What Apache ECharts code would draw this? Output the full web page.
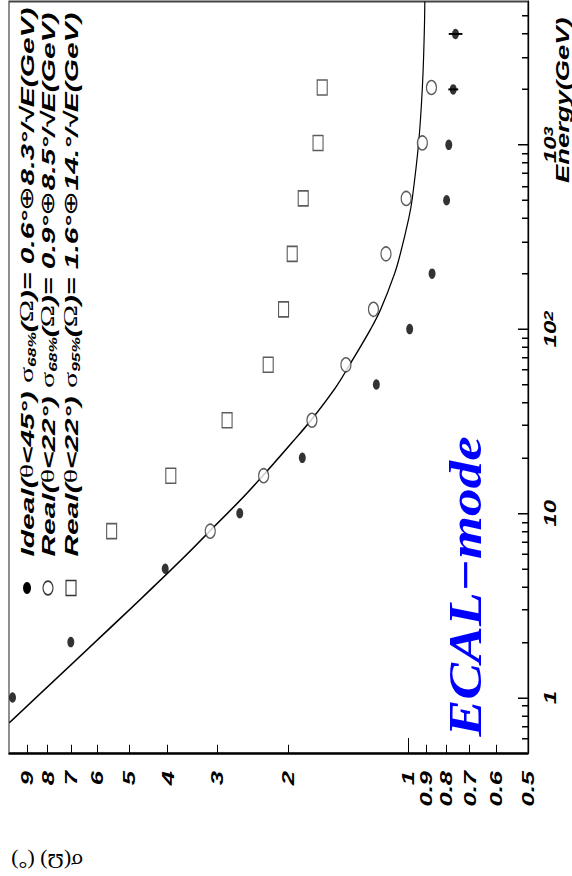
<!DOCTYPE html>
<html>
<head>
<meta charset="utf-8">
<script src="https://cdn.jsdelivr.net/npm/echarts@6/dist/echarts.min.js"></script>
<style>
  html, body { margin: 0; padding: 0; background: #fff; width: 572px; height: 876px; }
  #frame { position: relative; width: 572px; height: 876px; overflow: hidden; }
  /* the plot is laid out on a 572x584 stage and stretched vertically */
  #stage { position: absolute; left: 0; top: 0; width: 572px; height: 584px;
           transform: scaleY(1.5); transform-origin: 0 0; }
</style>
</head>
<body>
<div id="frame"><div id="stage"></div></div>
<script>
// Angular resolution sigma(Omega) versus photon energy, ECAL mode.
// Energy runs up the right-hand axis, sigma along the bottom (decreasing to the right).

const energyIdeal = [1, 2, 5, 10, 20, 50, 100, 200, 500, 1000, 2000, 4000];
const sigmaIdeal  = [9.8, 7.0, 4.06, 2.64, 1.84, 1.2, 0.99, 0.87, 0.80, 0.79, 0.77, 0.76];
const errIdeal    = [0, 0, 0, 0, 0, 0, 0, 0, 0, 0, 0.022, 0.03];

const energyReal  = [8, 16, 32, 64, 128, 256, 512, 1024, 2048];
const sigmaReal68 = [3.13, 2.30, 1.74, 1.43, 1.22, 1.135, 1.01, 0.92, 0.873];
const sigmaReal95 = [5.53, 3.93, 2.84, 2.24, 2.05, 1.95, 1.83, 1.68, 1.64];

// fitted resolution curve, sampled along its length
const fitEnergy = [0.73, 1, 1.5, 2, 3, 4, 6, 8, 12, 16, 24, 32, 48, 64, 100, 128, 200, 256, 400, 512, 1024, 2048, 4000, 6000];
const fitSigma  = [9.98, 8.55, 7.0, 6.08, 4.99, 4.34, 3.58, 3.14, 2.61, 2.31, 1.96, 1.75, 1.52, 1.40, 1.24, 1.17, 1.08, 1.045, 0.995, 0.975, 0.94, 0.92, 0.91, 0.907];

const energyTicks = [1, 10, 100, 1000];
const energyTickLabels = ['1', '10', '10{sup|2}', '10{sup|3}'];
const energyMinorTicks = [0.6, 0.7, 0.8, 0.9, 2, 3, 4, 5, 6, 7, 8, 9, 20, 30, 40, 50, 60, 70, 80, 90,
                          200, 300, 400, 500, 600, 700, 800, 900, 2000, 3000, 4000, 5000];
const sigmaTicks = [0.5, 0.6, 0.7, 0.8, 0.9, 1, 2, 3, 4, 5, 6, 7, 8, 9];
const sigmaTickLabels = ['0.5', '0.6', '0.7', '0.8', '0.9', '1', '2', '3', '4', '5', '6', '7', '8', '9'];
const sigmaMajorTicks = [1];
const sigmaMinorTicks = [0.6, 0.7, 0.8, 0.9, 2, 3, 4, 5, 6, 7, 8, 9];

const legendLabels = [
  'Ideal({s|θ}<45°) {s|σ}{sub|68%}({s|Ω})= 0.6°{s|⊕}8.3°/√E(GeV)',
  'Real({s|θ}<22°) {s|σ}{sub|68%}({s|Ω})= 0.9°{s|⊕}8.5°/√E(GeV)',
  'Real({s|θ}<22°) {s|σ}{sub|95%}({s|Ω})= 1.6°{s|⊕}14.°/√E(GeV)'
];
const energyTitle = 'Energy(GeV)';
const sigmaTitle = 'σ(Ω) (°)';
const modeTitle = 'ECAL−mode';

const SANS = '"Liberation Sans", Arial, Helvetica, sans-serif';
const SERIF = '"Liberation Serif", "Times New Roman", serif';

const pairs = (xs, ys) => xs.map((x, i) => [x, ys[i]]);

const chart = echarts.init(document.getElementById('stage'), null, { renderer: 'svg', width: 572, height: 584 });

const sigmaAxisBase = {
  type: 'log', logBase: 10, min: 0.5, max: 10, inverse: true, position: 'bottom',
  splitLine: { show: false }, minorTick: { show: false }
};
const energyAxisBase = {
  type: 'log', logBase: 10, min: 0.5, max: 6000, position: 'right',
  splitLine: { show: false }, minorTick: { show: false }
};

const legendText = (txt, x) => ({
  type: 'text', x: x, y: 371, rotation: Math.PI / 2, scaleX: 1.05,
  style: {
    text: txt, align: 'left', verticalAlign: 'middle',
    fontSize: 19, fontWeight: 'bold', fontStyle: 'italic', fontFamily: SANS, fill: '#000',
    lineHeight: 22,
    rich: {
      s: { fontSize: 19, fontWeight: 'normal', fontStyle: 'normal', fontFamily: SERIF, fill: '#000' },
      sub: { fontSize: 11, fontWeight: 'bold', fontStyle: 'italic', fontFamily: SANS, fill: '#000', verticalAlign: 'bottom' }
    }
  }
});

chart.setOption({
  animation: false,
  backgroundColor: '#fff',
  grid: {
    left: 9, right: 44, top: 1, bottom: 82,
    show: true, borderColor: '#444', borderWidth: 1.2, backgroundColor: 'transparent',
    outerBoundsMode: 'none'
  },
  xAxis: [
    Object.assign({}, sigmaAxisBase, {
      axisLine: { show: true, lineStyle: { color: '#000', width: 1.3 } },
      axisTick: { show: true, inside: true, length: 10, customValues: sigmaMajorTicks, lineStyle: { color: '#000', width: 1 } },
      axisLabel: {
        show: true, customValues: sigmaTicks, rotate: 90, margin: 12,
        formatter: v => sigmaTickLabels[sigmaTicks.indexOf(+v.toPrecision(6))],
        color: '#000', fontSize: 17, fontWeight: 'bold', fontStyle: 'italic', fontFamily: SANS
      }
    }),
    Object.assign({}, sigmaAxisBase, {
      axisLine: { show: false },
      axisTick: { show: true, inside: true, length: 5.5, customValues: sigmaMinorTicks, lineStyle: { color: '#000', width: 1 } },
      axisLabel: { show: false }
    })
  ],
  yAxis: [
    Object.assign({}, energyAxisBase, {
      axisLine: { show: true, lineStyle: { color: '#000', width: 1.3 } },
      axisTick: { show: true, inside: true, length: 10, customValues: energyTicks, lineStyle: { color: '#000', width: 1 } },
      axisLabel: {
        show: true, customValues: energyTicks, rotate: 90, margin: 15,
        formatter: v => energyTickLabels[energyTicks.indexOf(Math.round(v))],
        color: '#000', fontSize: 16, fontWeight: 'bold', fontStyle: 'italic', fontFamily: SANS,
        rich: {
          sup: { fontSize: 12, fontWeight: 'bold', fontStyle: 'italic', fontFamily: SANS, color: '#000', verticalAlign: 'top' }
        }
      }
    }),
    Object.assign({}, energyAxisBase, {
      axisLine: { show: false },
      axisTick: { show: true, inside: true, length: 6, customValues: energyMinorTicks, lineStyle: { color: '#000', width: 1 } },
      axisLabel: { show: false }
    })
  ],
  series: [
    {
      name: 'fit', type: 'line', xAxisIndex: 0, yAxisIndex: 0,
      data: pairs(fitSigma, fitEnergy), smooth: 0.4, showSymbol: false, symbol: 'none',
      lineStyle: { color: '#000', width: 1.2 }, z: 2
    },
    {
      name: 'Ideal error', type: 'custom', xAxisIndex: 0, yAxisIndex: 0,
      data: energyIdeal.map((e, i) => [sigmaIdeal[i] - errIdeal[i], sigmaIdeal[i] + errIdeal[i], e]).filter((d, i) => errIdeal[i] > 0),
      encode: { x: [0, 1], y: 2 },
      renderItem: (params, api) => {
        const a = api.coord([api.value(0), api.value(2)]);
        const b = api.coord([api.value(1), api.value(2)]);
        return { type: 'line', shape: { x1: a[0], y1: a[1], x2: b[0], y2: b[1] }, style: { stroke: '#000', lineWidth: 1.3 } };
      },
      z: 3
    },
    {
      name: 'Ideal', type: 'scatter', xAxisIndex: 0, yAxisIndex: 0, clip: false,
      data: pairs(sigmaIdeal, energyIdeal), symbol: 'circle', symbolSize: 7,
      itemStyle: { color: '#000' }, z: 4
    },
    {
      name: 'Real 68%', type: 'scatter', xAxisIndex: 0, yAxisIndex: 0, clip: false,
      data: pairs(sigmaReal68, energyReal), symbol: 'circle', symbolSize: [10, 9.3],
      itemStyle: { color: '#fff', borderColor: '#333', borderWidth: 1.1 }, z: 4
    },
    {
      name: 'Real 95%', type: 'scatter', xAxisIndex: 0, yAxisIndex: 0, clip: false,
      data: pairs(sigmaReal95, energyReal), symbol: 'rect', symbolSize: [10, 10],
      itemStyle: { color: '#fff', borderColor: '#333', borderWidth: 1.1 }, z: 4
    }
  ],
  graphic: {
    elements: [
      // legend markers
      { type: 'circle', shape: { cx: 27, cy: 392, r: 4 }, style: { fill: '#000' } },
      { type: 'ellipse', shape: { cx: 48, cy: 392, rx: 5, ry: 4.6 }, style: { fill: '#fff', stroke: '#333', lineWidth: 1.1 } },
      { type: 'rect', shape: { x: 66, y: 387, width: 10, height: 10 }, style: { fill: '#fff', stroke: '#333', lineWidth: 1.1 } },
      legendText(legendLabels[0], 27),
      legendText(legendLabels[1], 48),
      legendText(legendLabels[2], 71),
      {
        type: 'text', x: 563, y: 122, rotation: Math.PI / 2, scaleX: 0.96,
        style: { text: energyTitle, align: 'left', verticalAlign: 'middle',
                 fontSize: 19, fontWeight: 'bold', fontStyle: 'italic', fontFamily: SANS, fill: '#000' }
      },
      {
        type: 'text', x: 466, y: 491, rotation: Math.PI / 2, scaleX: 0.8,
        style: { text: modeTitle, align: 'left', verticalAlign: 'middle',
                 fontSize: 46, fontWeight: 'bold', fontStyle: 'italic', fontFamily: SERIF, fill: '#0000ff' }
      },
      {
        type: 'text', x: 83, y: 574, rotation: Math.PI, scaleY: 0.62,
        style: { text: sigmaTitle, align: 'left', verticalAlign: 'middle',
                 fontSize: 22, fontFamily: SERIF, fill: '#000' }
      }
    ]
  }
});
</script>
</body>
</html>
